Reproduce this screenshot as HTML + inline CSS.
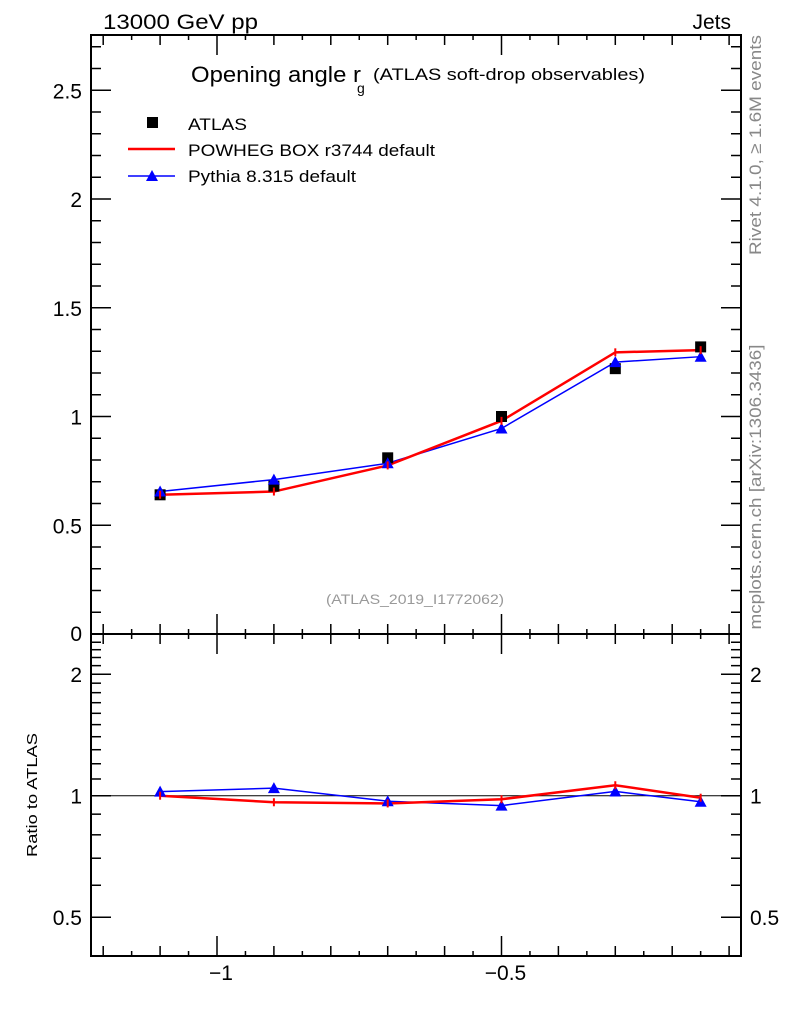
<!DOCTYPE html>
<html><head><meta charset="utf-8"><style>
body{margin:0;background:#fff}
svg{display:block;font-family:"Liberation Sans",sans-serif}
</style></head><body>
<svg id="c" width="786" height="1024"></svg>
<script>
const xCenters=[-1.1,-0.9,-0.7,-0.5,-0.3,-0.15];
const atlasVals=[0.64,0.68,0.81,1.0,1.22,1.32];
const powhegVals=[0.64,0.655,0.775,0.98,1.295,1.305];
const pythiaVals=[0.655,0.71,0.785,0.945,1.25,1.275];
const xTickLabels=["\u22121","\u22120.5"];
const xTickVals=[-1,-0.5];
const yTickVals=[0.5,1,1.5,2,2.5];
const yTickLabels=["0.5","1","1.5","2","2.5"];
const rTickVals=[0.5,1,2];
const rTickLabels=["0.5","1","2"];

const NS="http://www.w3.org/2000/svg";
const svg=document.getElementById('c');
const L=91,R=741,T=35,M=634,B=956;
const X=v=>217+(v+1)*569;
const Y=v=>634-v*217.5;
const RY=v=>795.7-Math.log2(v)*121.5;
function el(tag,attrs,parent){const e=document.createElementNS(NS,tag);for(const k in attrs)e.setAttribute(k,attrs[k]);(parent||svg).appendChild(e);return e;}
function txt(s,attrs){const e=el('text',attrs);e.textContent=s;return e;}

let f1=el('rect',{x:L,y:T,width:R-L,height:M-T,fill:'none',stroke:'#000','stroke-width':2});

let f2=el('rect',{x:L,y:M,width:R-L,height:B-M,fill:'none',stroke:'#000','stroke-width':2});


for(let i=0;i<=23;i++){const v=-1.2+i*0.05;const x=X(v);if(x<L||x>R)continue;
 const major=Math.abs(v+1)<1e-6||Math.abs(v+0.5)<1e-6; const med=i%2==0;
 const len=major?20:(med?10:5);
 for(const y0 of [M,B]){el('line',{x1:x,y1:y0,x2:x,y2:y0-len,stroke:'#000','stroke-width':1.5});}
 for(const y0 of [T,M]){el('line',{x1:x,y1:y0,x2:x,y2:y0+len,stroke:'#000','stroke-width':1.5});}
}
xTickVals.forEach((v,i)=>{const t=txt(xTickLabels[i],{x:X(v)+4,y:980,'font-size':21,'text-anchor':'middle'});
 });

for(let i=1;i<=27;i++){const v=i*0.1;const y=Y(v);const maj=i%5==0;const len=maj?20:10;
 el('line',{x1:L,y1:y,x2:L+len,y2:y,stroke:'#000','stroke-width':1.5});
 el('line',{x1:R,y1:y,x2:R-len,y2:y,stroke:'#000','stroke-width':1.5});}
yTickVals.forEach((v,i)=>{const t=txt(yTickLabels[i],{x:82,y:Y(v)+8,'font-size':21,'text-anchor':'end'});
 });
txt("0",{x:82,y:641,'font-size':21,'text-anchor':'end'});

const rt=[0.5,0.6,0.7,0.8,0.9,1,1.1,1.2,1.3,1.4,1.5,1.6,1.7,1.8,1.9,2,2.1,2.2,2.3,2.4];
rt.forEach(v=>{const y=RY(v);const maj=rTickVals.includes(v);const len=maj?20:10;
 el('line',{x1:L,y1:y,x2:L+len,y2:y,stroke:'#000','stroke-width':1.5});
 el('line',{x1:R,y1:y,x2:R-len,y2:y,stroke:'#000','stroke-width':1.5});});
rTickVals.forEach((v,i)=>{let t=txt(rTickLabels[i],{x:82,y:RY(v)+8,'font-size':21,'text-anchor':'end'});
 
 let t2=txt(rTickLabels[i],{x:750,y:RY(v)+8,'font-size':21});
 });
el('line',{x1:L,y1:RY(1),x2:R,y2:RY(1),stroke:'#000','stroke-width':1});

function poly(vals,fy,color,w,name){const p=el('polyline',{points:vals.map((v,i)=>X(xCenters[i])+','+fy(v)).join(' '),fill:'none',stroke:color,'stroke-width':w});
 }
function tri(x,y,name){const p=el('polygon',{points:`${x},${y-6} ${x-6},${y+5} ${x+6},${y+5}`,fill:'#00f'});
 }
poly(pythiaVals,Y,'#00f',1.5,'pythia-line');
poly(powhegVals,Y,'#f00',2.5,'powheg-line');
atlasVals.forEach((v,i)=>{const r=el('rect',{x:X(xCenters[i])-5.5,y:Y(v)-5.5,width:11,height:11,fill:'#000'});
 });
pythiaVals.forEach((v,i)=>tri(X(xCenters[i]),Y(v),'pythia-point'));
powhegVals.forEach((v,i)=>{el('line',{x1:X(xCenters[i]),y1:Y(v)-4,x2:X(xCenters[i]),y2:Y(v)+4,stroke:'#f00','stroke-width':2});});

const rPow=powhegVals.map((v,i)=>v/atlasVals[i]);
const rPy=pythiaVals.map((v,i)=>v/atlasVals[i]);
poly(rPy,RY,'#00f',1.5,'pythia-ratio-line');
poly(rPow,RY,'#f00',2.5,'powheg-ratio-line');
rPy.forEach((v,i)=>tri(X(xCenters[i]),RY(v),'pythia-ratio-point'));
rPow.forEach((v,i)=>{el('line',{x1:X(xCenters[i]),y1:RY(v)-4,x2:X(xCenters[i]),y2:RY(v)+4,stroke:'#f00','stroke-width':2});});

function T2(s,a,name){const t=txt(s,a);return t;}
T2("13000 GeV pp",{x:103,y:29,'font-size':21,textLength:155,lengthAdjust:'spacingAndGlyphs'},'energy-label');
T2("Jets",{x:731,y:29,'font-size':21,'text-anchor':'end'},'process-label');
T2("Opening angle r",{x:191,y:82,'font-size':22,textLength:170,lengthAdjust:'spacingAndGlyphs'},'plot-title');
T2("g",{x:357,y:93,'font-size':14},'title-subscript');
T2("(ATLAS soft-drop observables)",{x:373,y:80,'font-size':17,textLength:272,lengthAdjust:'spacingAndGlyphs'},'title-suffix');
let lr=el('rect',{x:147,y:117,width:11,height:11,fill:'#000'});
T2("ATLAS",{x:188,y:130,'font-size':17,textLength:59,lengthAdjust:'spacingAndGlyphs'},'legend-atlas');
el('line',{x1:128,y1:149,x2:175,y2:149,stroke:'#f00','stroke-width':2.5});
T2("POWHEG BOX r3744 default",{x:188,y:156,'font-size':17,textLength:247,lengthAdjust:'spacingAndGlyphs'},'legend-powheg');
el('line',{x1:128,y1:176,x2:175,y2:176,stroke:'#00f','stroke-width':1.5});
tri(152,176,'legend-pythia-marker');
T2("Pythia 8.315 default",{x:188,y:182,'font-size':17,textLength:168,lengthAdjust:'spacingAndGlyphs'},'legend-pythia');
T2("(ATLAS_2019_I1772062)",{x:415,y:604,'font-size':14,fill:'#999','text-anchor':'middle',textLength:178,lengthAdjust:'spacingAndGlyphs'},'analysis-id');
T2("Ratio to ATLAS",{x:37,y:795,'font-size':15,'text-anchor':'middle',transform:'rotate(-90 37 795)',textLength:124,lengthAdjust:'spacingAndGlyphs'},'ratio-y-axis-title');
T2("Rivet 4.1.0, \u2265 1.6M events",{x:761,y:145,'font-size':17,fill:'#888','text-anchor':'middle',transform:'rotate(-90 761 145)',textLength:220,lengthAdjust:'spacingAndGlyphs'},'rivet-label');
T2("mcplots.cern.ch [arXiv:1306.3436]",{x:761,y:487,'font-size':17,fill:'#888','text-anchor':'middle',transform:'rotate(-90 761 487)',textLength:285,lengthAdjust:'spacingAndGlyphs'},'mcplots-label');
</script>
</body></html>
